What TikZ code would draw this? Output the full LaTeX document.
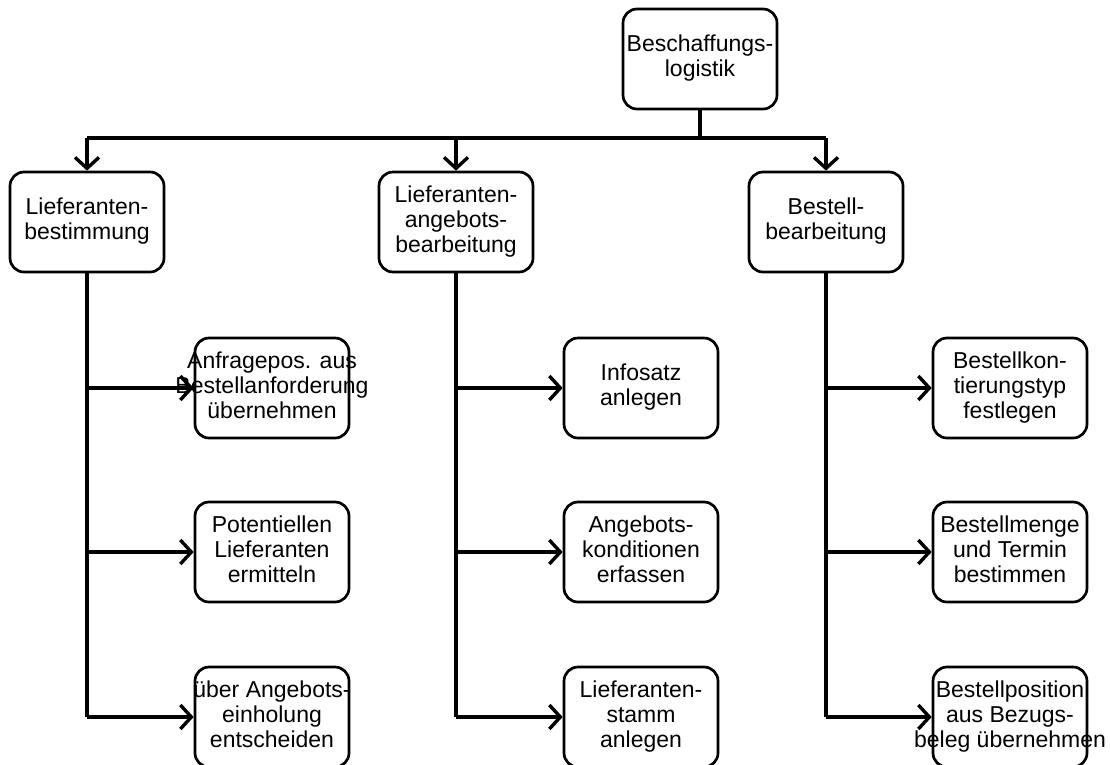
\documentclass[tikz,border=0pt]{standalone}
\usepackage{fontspec}
\setmainfont{Liberation Sans}
\usetikzlibrary{arrows.meta}
% centred multi-line label that may spill over the box edges
\newcommand{\lbl}[1]{\makebox[0pt]{\begin{tabular}{@{}c@{}}#1\end{tabular}}}
\begin{document}
\begin{tikzpicture}[x=1pt, y=-1pt,
  task/.style={draw, line width=2.7pt, rounded corners=14pt,
    minimum width=154pt, minimum height=100pt, inner sep=0pt,
    font=\fontsize{23}{25}\selectfont},
  link/.style={line width=3.4pt},
  feed/.style={link, -{Straight Barb[length=11pt, width=24pt]}}]
\useasboundingbox (0,0) rectangle (1110,764);

% root
\node[task] (top) at (700,59) {\lbl{Beschaffungs-\\logistik}};

% second level
\node[task] (a) at (87,222)  {\lbl{Lieferanten-\\bestimmung}};
\node[task] (b) at (456,222) {\lbl{Lieferanten-\\angebots-\\bearbeitung}};
\node[task] (c) at (826,222) {\lbl{Bestell-\\bearbeitung}};

% activities
\node[task] (a1) at (272,388) {\lbl{Anfragepos. aus\\Bestellanforderung\\übernehmen}};
\node[task] (a2) at (272,552) {\lbl{Potentiellen\\Lieferanten\\ermitteln}};
\node[task] (a3) at (272,717) {\lbl{über Angebots-\\einholung\\entscheiden}};

\node[task] (b1) at (641,388) {\lbl{Infosatz\\anlegen}};
\node[task] (b2) at (641,552) {\lbl{Angebots-\\konditionen\\erfassen}};
\node[task] (b3) at (641,717) {\lbl{Lieferanten-\\stamm\\anlegen}};

\node[task] (c1) at (1010,388) {\lbl{Bestellkon-\\tierungstyp\\festlegen}};
\node[task] (c2) at (1010,552) {\lbl{Bestellmenge\\und Termin\\bestimmen}};
\node[task] (c3) at (1010,717) {\lbl{Bestellposition\\aus Bezugs-\\beleg übernehmen}};

% distribution bar under the root
\coordinate (bar) at (700,138);
\draw[link] (top.south) -- (top.south |- bar);
\draw[link] (a.north |- bar) -- (c.north |- bar);
\draw[feed] (a.north |- bar) -- (a.north);
\draw[feed] (b.north |- bar) -- (b.north);
\draw[feed] (c.north |- bar) -- (c.north);

% trunks and branches
\foreach \p in {a,b,c}{
  \draw[link] (\p.south) -- (\p.south |- \p3.west);
  \foreach \i in {1,2,3}
    \draw[feed] (\p.south |- \p\i.west) -- (\p\i.west);
}
\end{tikzpicture}
\end{document}
